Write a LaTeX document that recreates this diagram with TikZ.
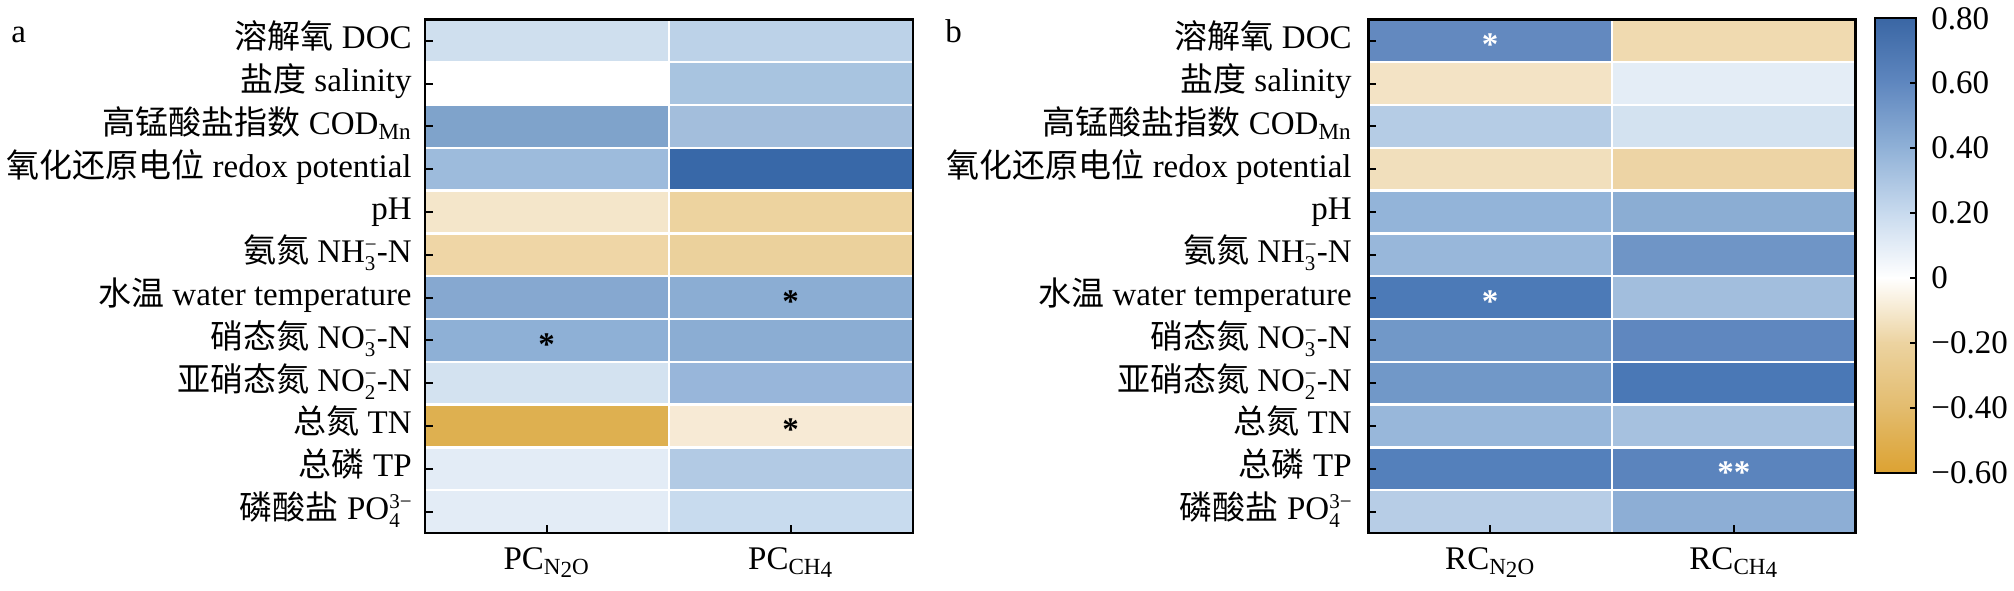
\documentclass[tikz,border=0pt]{standalone}
\usepackage{fontspec}
\setmainfont{Liberation Serif}
\newfontfamily\cjk{Noto Sans CJK SC}
\usepackage{xcolor}
\usepackage{tikz}

% stacked sub- and superscript
\newcommand{\chemss}[2]{\raisebox{-4pt}{\fontsize{10.5}{10.5}\selectfont
  \vbox{\baselineskip=9.5pt\hbox{#2}\hbox{#1}}}}

\definecolor{cbpE}{HTML}{3A66A4}
\definecolor{cbpC}{HTML}{5F87BF}
\definecolor{cbpA}{HTML}{90B1D7}
\definecolor{cbpB}{HTML}{C8DAEE}
\definecolor{cbz}{HTML}{FFFFFF}
\definecolor{cbmB}{HTML}{ECD3A0}
\definecolor{cbmA}{HTML}{E3BC6E}
\definecolor{cbmC}{HTML}{DCA232}

\begin{document}
\begin{tikzpicture}[x=0.5pt,y=-0.5pt,font=\fontsize{16.5}{19.8}\selectfont,
  sig/.style={font=\fontsize{16.5}{19.8}\selectfont\bfseries, anchor=base, inner sep=0pt},
  sigw/.style={sig, text=white}]
\useasboundingbox (0,0) rectangle (2014,590);

% cells and row labels
\foreach \i/\lab/\pn/\pc/\rn/\rc in {
  0/{{\cjk 溶解氧} DOC}/CFDFEE/BCD2E8/6389BF/F0DAB0,
  1/{{\cjk 盐度} salinity}/FFFFFF/A8C4E0/F3E3C5/E4EDF6,
  2/{{\cjk 高锰酸盐指数} COD\textsubscript{Mn}}/7FA3CB/A3BEDC/B5CCE5/D3E2F0,
  3/{{\cjk 氧化还原电位} redox potential}/9DBBDC/3868A8/F1DFBC/EDD4A5,
  4/{pH}/F4E6CA/EDD39F/93B4D9/8BADD3,
  5/{{\cjk 氨氮} NH\chemss{3}{−}-N}/EFD6A6/EBD19C/98B7DA/6F95C6,
  6/{{\cjk 水温} water temperature}/86A8D0/8BADD3/4C7AB7/A2BEDD,
  7/{{\cjk 硝态氮} NO\chemss{3}{−}-N}/8EB0D6/8BADD3/7198C8/5F87BF,
  8/{{\cjk 亚硝态氮} NO\chemss{2}{−}-N}/D3E2F0/98B6DA/7198C8/4A78B6,
  9/{{\cjk 总氮} TN}/DEB050/F7EAD5/98B7DA/A6C1DF,
  10/{{\cjk 总磷} TP}/E3ECF6/B2CAE4/5480BB/5B84BD,
  11/{{\cjk 磷酸盐} PO\chemss{4}{3−}}/E3ECF6/C8DBEE/B7CDE6/8DAED5}{
  \pgfmathsetmacro\yt{19.3+42.8*\i}
  \pgfmathsetmacro\yb{\yt+42.8}
  \pgfmathsetmacro\yl{\yt+29.4}
  \definecolor{cpn}{HTML}{\pn}
  \definecolor{cpc}{HTML}{\pc}
  \definecolor{crn}{HTML}{\rn}
  \definecolor{crc}{HTML}{\rc}
  \path[fill=cpn] (424.7,\yt) rectangle (668.7,\yb);
  \path[fill=cpc] (668.7,\yt) rectangle (912.7,\yb);
  \path[fill=crn] (1368.3,\yt) rectangle (1612,\yb);
  \path[fill=crc] (1612,\yt) rectangle (1855.6,\yb);
  \node[anchor=base east, inner sep=0pt] (la\i) at (412,\yl) {\lab};
  \node[anchor=base east, inner sep=0pt] (lb\i) at (1352,\yl) {\lab};
}

% white grid
\foreach \i in {1,...,11}{
  \draw[white, line width=1.2pt] (424.7,{19.3+42.8*\i}) -- (912.7,{19.3+42.8*\i});
  \draw[white, line width=1.2pt] (1368.3,{19.3+42.8*\i}) -- (1855.6,{19.3+42.8*\i});
}
\draw[white, line width=1.2pt] (668.7,19.3) -- (668.7,533);
\draw[white, line width=1.2pt] (1612,19.3) -- (1612,533);

% frames and ticks
\draw[line width=1.2pt] (424.7,19.3) rectangle (912.7,533);
\draw[line width=1.2pt] (1368.3,19.3) rectangle (1855.6,533);
\foreach \i in {0,...,11}{
  \draw[line width=1pt] (424.7,{19.3+42.8*(\i+0.5)}) -- ++(8,0);
  \draw[line width=1pt] (1368.3,{19.3+42.8*(\i+0.5)}) -- ++(8,0);
}
\foreach \x in {546.7,790.7,1490.2,1733.8}
  \draw[line width=1pt] (\x,533) -- ++(0,-8);

% significance marks
\node[sig] (sa7) at (546.7,355.3) {*};
\node[sig] (sb6) at (790.7,312.5) {*};
\node[sig] (sb9) at (790.7,440.9) {*};
\node[sigw] (sc0) at (1490.2,55.7) {*};
\node[sigw] (sc6) at (1490.2,312.5) {*};
\node[sigw] (sd10) at (1733.8,483.7) {**};

% axis labels
\node[anchor=base] (xa1) at (546.7,569) {PC\textsubscript{N\raisebox{-0.35ex}{2}O}};
\node[anchor=base] (xa2) at (790.7,569) {PC\textsubscript{CH\raisebox{-0.35ex}{4}}};
\node[anchor=base] (xb1) at (1490.2,569) {RC\textsubscript{N\raisebox{-0.35ex}{2}O}};
\node[anchor=base] (xb2) at (1733.8,569) {RC\textsubscript{CH\raisebox{-0.35ex}{4}}};

\node[anchor=base west, inner sep=0pt] (pa) at (11,42) {a};
\node[anchor=base west, inner sep=0pt] (pb) at (945,42) {b};

% colour bar
\foreach \ya/\yb/\ct/\cc in {18.3/83.2/cbpE/cbpC, 83.2/148.1/cbpC/cbpA,
  148.1/213/cbpA/cbpB, 213/278/cbpB/cbz, 278/342.9/cbz/cbmB,
  342.9/407.8/cbmB/cbmA, 407.8/472.7/cbmA/cbmC}
  \shade[top color=\ct, bottom color=\cc] (1875,\ya-0.3) rectangle (1916,\yb+0.3);
\draw[line width=1pt] (1875,18.3) rectangle (1916,472.7);
\foreach \v/\t [count=\k] in {0.8/0.80, 0.6/0.60, 0.4/0.40, 0.2/0.20, 0/0,
  -0.2/−0.20, -0.4/−0.40, -0.6/−0.60}{
  \pgfmathsetmacro\yv{18.3+(0.8-\v)*324.6}
  \draw[line width=1pt] (1916,\yv) -- ++(-6,0);
  \node[anchor=west, inner sep=0pt] (cl\k) at (1931,\yv) {\t};
}
\end{tikzpicture}
\end{document}
